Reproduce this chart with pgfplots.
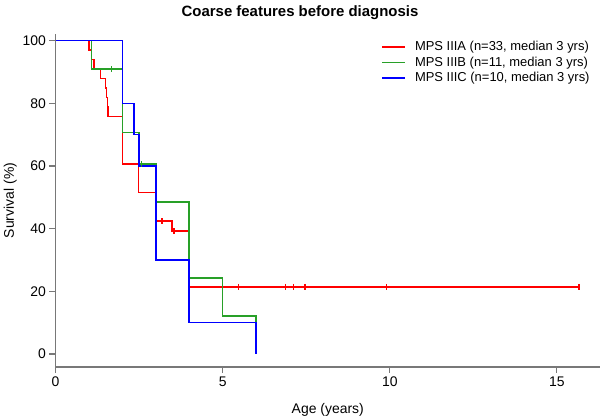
\documentclass[border=0pt]{standalone}
\usepackage{fontspec}
\setmainfont{Liberation Sans}
\usepackage{pgfplots}
\pgfplotsset{compat=1.18}
\definecolor{kmred}{RGB}{255,0,0}
\definecolor{kmgreen}{RGB}{40,160,40}
\definecolor{kmblue}{RGB}{0,0,255}
\definecolor{axgray}{RGB}{120,120,120}

\begin{document}
\begin{tikzpicture}
\useasboundingbox (0,0) rectangle (600bp,420bp);
\node[font=\fontsize{15}{18}\selectfont\bfseries, anchor=base] at (300bp,403bp) {Coarse features before diagnosis};
\begin{axis}[
  at={(55.5bp,53bp)}, anchor=south west,
  width=544.5bp, height=333bp, scale only axis,
  xmin=0, xmax=16.29, ymin=-4.15, ymax=102.1,
  clip=false,
  axis lines=left, axis line style={-, axgray, line width=1.2bp},
  tick align=outside, major tick length=6bp,
  tick style={axgray, line width=1.2bp},
  xtick={0,5,10,15}, ytick={0,20,40,60,80,100},
  /pgf/number format/assume math mode=true,
  ticklabel style={font=\fontsize{14}{16}\selectfont},
  xlabel={Age (years)},
  xlabel style={at={(axis description cs:0.5,0)}, anchor=base, yshift=-46bp, font=\fontsize{14}{16}\selectfont},
  ylabel={Survival (\%)},
  ylabel style={at={(axis description cs:-0.083,0.5)}, anchor=center, font=\fontsize{14}{16}\selectfont},
  legend style={draw=none, fill=none, at={(axis description cs:0.598,0.982)}, anchor=north west,
    font=\fontsize{13}{15}\selectfont, inner sep=0pt, row sep=2.3bp, nodes={inner sep=1.2bp},
    /tikz/every odd column/.append style={column sep=8bp}},
  legend cell align=left,
  legend image code/.code={\draw[#1] (0bp,0bp) -- (23bp,0bp);},
  every axis plot/.append style={line width=1.5bp},
]
% MPS IIIA
\addplot[color=kmred, const plot mark left] coordinates {
  (0,100) (1.0,97.0) (1.07,93.9) (1.15,90.9) (1.34,87.9) (1.5,84.8) (1.52,81.8)
  (1.55,78.8) (1.57,75.8) (2.0,60.6) (2.48,51.5) (3.0,42.4) (3.48,39.2)
  (4.0,21.4) (15.7,21.4)
};
\addlegendentry{MPS IIIA (n=33, median 3 yrs)}
% MPS IIIB
\addplot[color=kmgreen, const plot mark left] coordinates {
  (0,100) (1.07,90.9) (2.0,70.7) (2.5,60.6) (3.0,48.5) (4.0,24.2) (5.0,12.1) (6.0,0)
};
\addlegendentry{MPS IIIB (n=11, median 3 yrs)}
% MPS IIIC
\addplot[color=kmblue, const plot mark left] coordinates {
  (0,100) (2.0,80) (2.35,70) (2.5,60) (3.0,30) (4.0,10) (6.0,0)
};
\addlegendentry{MPS IIIC (n=10, median 3 yrs)}
% censored
\addplot[color=kmred, only marks, mark=|, mark size=3bp, forget plot] coordinates {
  (3.19,42.4) (3.54,39.2) (5.47,21.4) (6.88,21.4) (7.12,21.4) (7.47,21.4) (9.9,21.4) (15.66,21.4)
};
\addplot[color=kmgreen, only marks, mark=|, mark size=3bp, forget plot] coordinates {
  (1.67,90.9) (2.57,60.6)
};
\end{axis}
\end{tikzpicture}
\end{document}
